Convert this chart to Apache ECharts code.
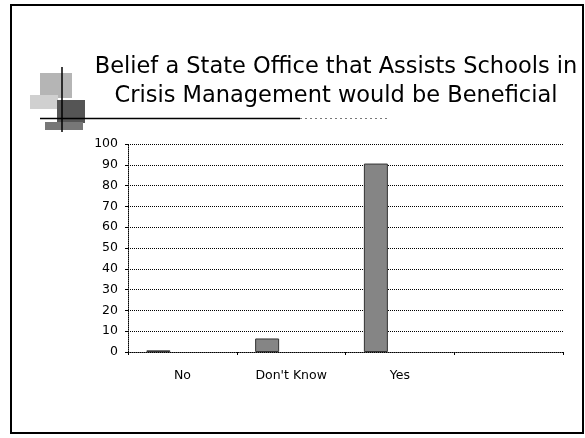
<!DOCTYPE html>
<html>
<head>
<meta charset="utf-8">
<script src="https://cdn.jsdelivr.net/npm/echarts@6/dist/echarts.min.js"></script>
<style>
html,body{margin:0;padding:0;background:#fff;}
#chart{width:585px;height:438px;}
</style>
</head>
<body>
<div id="chart"></div>
<script>
const categories = ['No', "Don't Know", 'Yes', ''];
const beliefValues = [0.8, 6.5, 90.6, null];
const emptySeriesA = [null, null, null, null];
const emptySeriesB = [null, null, null, null];
const yTicks = [0, 10, 20, 30, 40, 50, 60, 70, 80, 90, 100];
const titleLines = ['Belief a State Office that Assists Schools in', 'Crisis Management would be Beneficial'];

const chart = echarts.init(document.getElementById('chart'), null, {renderer: 'canvas'});
const dotted = {color: '#000', width: 1, type: [1, 1]};
const option = {
  animation: false,
  backgroundColor: '#fff',
  title: {
    text: titleLines.join('\n'),
    left: 331,
    top: 48,
    textAlign: 'center',
    textStyle: {fontFamily: 'DejaVu Sans', fontSize: 22.5, fontWeight: 'normal', color: '#000', lineHeight: 29}
  },
  grid: {left: 128, right: 22, top: 144, bottom: 86, containLabel: false},
  xAxis: {
    type: 'category',
    data: categories,
    axisLine: {show: true, lineStyle: dotted},
    axisTick: {show: true, length: 3, lineStyle: {color: '#000'}},
    axisLabel: {color: '#000', fontFamily: 'DejaVu Sans', fontSize: 12.5, margin: 17}
  },
  yAxis: {
    type: 'value',
    min: yTicks[0],
    max: yTicks[yTicks.length - 1],
    interval: 10,
    axisLine: {show: true, lineStyle: dotted},
    axisTick: {show: true, length: 3, lineStyle: {color: '#000'}},
    splitLine: {show: true, lineStyle: dotted},
    axisLabel: {color: '#000', fontFamily: 'DejaVu Sans', fontSize: 12.5, margin: 10}
  },
  series: [
    {type: 'bar', data: beliefValues, barWidth: 24, barGap: '0%',
     itemStyle: {color: '#858585', borderColor: '#333', borderWidth: 1}},
    {type: 'bar', data: emptySeriesA, barWidth: 24, barGap: '0%'},
    {type: 'bar', data: emptySeriesB, barWidth: 24, barGap: '0%'}
  ],
  graphic: [
    {type: 'rect', shape: {x: 11, y: 5, width: 572, height: 428}, style: {fill: 'none', stroke: '#000', lineWidth: 2}, silent: true},
    {type: 'rect', shape: {x: 40, y: 73, width: 32, height: 25}, style: {fill: '#b5b5b5'}, silent: true},
    {type: 'rect', shape: {x: 30, y: 95, width: 28, height: 14}, style: {fill: '#d0d0d0'}, silent: true},
    {type: 'rect', shape: {x: 57, y: 100, width: 28, height: 23}, style: {fill: '#555'}, silent: true},
    {type: 'rect', shape: {x: 45, y: 122, width: 38, height: 8}, style: {fill: '#777'}, silent: true},
    {type: 'line', shape: {x1: 62, y1: 67, x2: 62, y2: 132}, style: {stroke: '#000', lineWidth: 1.5}, silent: true},
    {type: 'line', shape: {x1: 40, y1: 118.5, x2: 300, y2: 118.5}, style: {stroke: '#000', lineWidth: 1.5}, silent: true},
    {type: 'line', shape: {x1: 300, y1: 118.5, x2: 390, y2: 118.5}, style: {stroke: '#777', lineWidth: 1, lineDash: [2, 3]}, silent: true}
  ]
};
chart.setOption(option);
</script>
</body>
</html>
